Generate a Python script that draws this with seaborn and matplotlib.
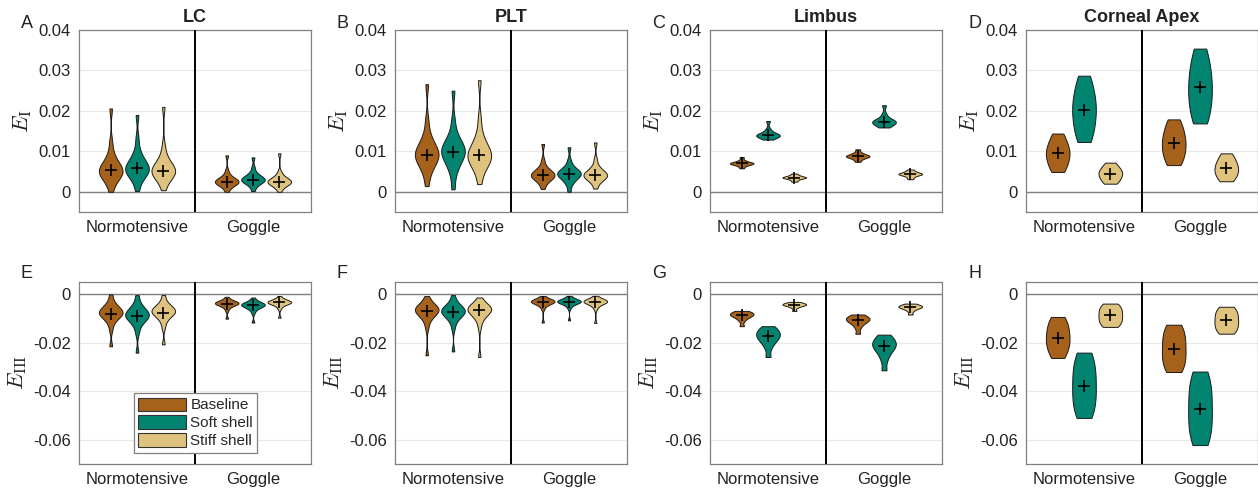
import numpy as np
import pandas as pd
import matplotlib
matplotlib.use("Agg")
import matplotlib.pyplot as plt
import seaborn as sns
from matplotlib.patches import Patch

# ---------------- data ----------------
GROUPS = ["Normotensive", "Goggle"]
CONDITIONS = ["Baseline", "Soft shell", "Stiff shell"]
COLORS = ["#a6611a", "#018571", "#dfc27d"]
REGIONS = ["LC", "PLT", "Limbus", "Corneal Apex"]
LETTERS_TOP = ["A", "B", "C", "D"]
LETTERS_BOT = ["E", "F", "G", "H"]
YTICKS_EI = [0, 0.01, 0.02, 0.03, 0.04]
YTICKLABELS_EI = ["0", "0.01", "0.02", "0.03", "0.04"]
YTICKS_EIII = [-0.06, -0.04, -0.02, 0]
YTICKLABELS_EIII = ["-0.06", "-0.04", "-0.02", "0"]

# representative observations per violin: [Baseline, Soft shell, Stiff shell]
LC_EI_NORMO = [
    [0.0000, 0.0020, 0.0030, 0.0036, 0.0040, 0.0044, 0.0047, 0.0050, 0.0052,
     0.0055, 0.0059, 0.0063, 0.0068, 0.0074, 0.0083, 0.0095, 0.0123, 0.0206],
    [0.0002, 0.0024, 0.0034, 0.0040, 0.0045, 0.0049, 0.0053, 0.0055, 0.0058,
     0.0061, 0.0065, 0.0069, 0.0075, 0.0081, 0.0090, 0.0103, 0.0132, 0.0190],
    [0.0004, 0.0023, 0.0031, 0.0037, 0.0041, 0.0045, 0.0047, 0.0050, 0.0052,
     0.0055, 0.0058, 0.0061, 0.0066, 0.0072, 0.0079, 0.0090, 0.0114, 0.0210],
]
LC_EI_GOGGLE = [
    [0.0000, 0.0010, 0.0014, 0.0017, 0.0019, 0.0021, 0.0023, 0.0024, 0.0025,
     0.0026, 0.0028, 0.0029, 0.0031, 0.0034, 0.0037, 0.0042, 0.0053, 0.0090],
    [0.0002, 0.0013, 0.0018, 0.0021, 0.0024, 0.0026, 0.0027, 0.0029, 0.0030,
     0.0031, 0.0033, 0.0035, 0.0037, 0.0040, 0.0043, 0.0049, 0.0061, 0.0085],
    [0.0000, 0.0010, 0.0014, 0.0017, 0.0019, 0.0021, 0.0023, 0.0024, 0.0025,
     0.0026, 0.0027, 0.0029, 0.0031, 0.0033, 0.0036, 0.0041, 0.0050, 0.0095],
]
LC_EI_MEAN = [[0.0053, 0.0058, 0.0052], [0.0025, 0.0030, 0.0025]]

PLT_EI_NORMO = [
    [0.0014, 0.0044, 0.0058, 0.0067, 0.0074, 0.0080, 0.0085, 0.0089, 0.0092,
     0.0096, 0.0100, 0.0105, 0.0111, 0.0119, 0.0129, 0.0144, 0.0177, 0.0266],
    [0.0006, 0.0042, 0.0059, 0.0070, 0.0078, 0.0085, 0.0090, 0.0095, 0.0099,
     0.0103, 0.0107, 0.0111, 0.0117, 0.0124, 0.0133, 0.0147, 0.0178, 0.0250],
    [0.0019, 0.0047, 0.0059, 0.0068, 0.0074, 0.0079, 0.0083, 0.0087, 0.0090,
     0.0094, 0.0099, 0.0104, 0.0110, 0.0118, 0.0129, 0.0145, 0.0181, 0.0276],
]
PLT_EI_GOGGLE = [
    [0.0007, 0.0020, 0.0026, 0.0030, 0.0033, 0.0036, 0.0038, 0.0039, 0.0041,
     0.0043, 0.0045, 0.0047, 0.0049, 0.0053, 0.0057, 0.0063, 0.0078, 0.0118],
    [0.0000, 0.0017, 0.0025, 0.0030, 0.0034, 0.0037, 0.0040, 0.0042, 0.0044,
     0.0046, 0.0047, 0.0049, 0.0052, 0.0055, 0.0059, 0.0065, 0.0078, 0.0110],
    [0.0008, 0.0021, 0.0027, 0.0031, 0.0034, 0.0036, 0.0038, 0.0040, 0.0041,
     0.0043, 0.0045, 0.0047, 0.0050, 0.0053, 0.0058, 0.0065, 0.0081, 0.0122],
]
PLT_EI_MEAN = [[0.0092, 0.0099, 0.0090], [0.0041, 0.0044, 0.0041]]

LIMBUS_EI_NORMO = [
    [0.0058, 0.0064, 0.0067, 0.0069, 0.0070, 0.0070, 0.0071, 0.0072, 0.0074, 0.0078, 0.0086],
    [0.0129, 0.0133, 0.0136, 0.0138, 0.0139, 0.0140, 0.0141, 0.0143, 0.0147, 0.0155, 0.0175],
    [0.0025, 0.0029, 0.0032, 0.0034, 0.0035, 0.0035, 0.0036, 0.0037, 0.0039, 0.0041, 0.0045],
]
LIMBUS_EI_GOGGLE = [
    [0.0074, 0.0080, 0.0084, 0.0086, 0.0087, 0.0088, 0.0089, 0.0091, 0.0093, 0.0097, 0.0105],
    [0.0159, 0.0163, 0.0167, 0.0170, 0.0172, 0.0173, 0.0175, 0.0177, 0.0181, 0.0192, 0.0214],
    [0.0031, 0.0036, 0.0040, 0.0042, 0.0043, 0.0044, 0.0045, 0.0046, 0.0048, 0.0051, 0.0055],
]
LIMBUS_EI_MEAN = [[0.0070, 0.0140, 0.0035], [0.0088, 0.0173, 0.0044]]

APEX_EI_NORMO = [
    [0.0049, 0.0062, 0.0075, 0.0086, 0.0095, 0.0104, 0.0114, 0.0128, 0.0144],
    [0.0123, 0.0145, 0.0167, 0.0186, 0.0203, 0.0220, 0.0238, 0.0260, 0.0287],
    [0.0020, 0.0027, 0.0034, 0.0040, 0.0045, 0.0050, 0.0055, 0.0062, 0.0072],
]
APEX_EI_GOGGLE = [
    [0.0066, 0.0081, 0.0095, 0.0108, 0.0120, 0.0132, 0.0145, 0.0161, 0.0179],
    [0.0169, 0.0193, 0.0216, 0.0238, 0.0258, 0.0278, 0.0300, 0.0325, 0.0354],
    [0.0026, 0.0035, 0.0044, 0.0051, 0.0058, 0.0065, 0.0073, 0.0083, 0.0095],
]
APEX_EI_MEAN = [[0.0095, 0.0203, 0.0045], [0.0120, 0.0258, 0.0058]]

LC_EIII_NORMO = [
    [-0.0001, -0.0030, -0.0043, -0.0052, -0.0058, -0.0064, -0.0068, -0.0072, -0.0075,
     -0.0078, -0.0082, -0.0086, -0.0091, -0.0097, -0.0106, -0.0118, -0.0146, -0.0215],
    [-0.0004, -0.0035, -0.0050, -0.0059, -0.0066, -0.0072, -0.0077, -0.0081, -0.0085,
     -0.0089, -0.0092, -0.0097, -0.0102, -0.0109, -0.0118, -0.0132, -0.0161, -0.0241],
    [-0.0004, -0.0030, -0.0042, -0.0050, -0.0055, -0.0060, -0.0064, -0.0067, -0.0070,
     -0.0073, -0.0076, -0.0080, -0.0085, -0.0091, -0.0099, -0.0112, -0.0138, -0.0207],
]
LC_EIII_GOGGLE = [
    [-0.0011, -0.0021, -0.0026, -0.0029, -0.0031, -0.0033, -0.0035, -0.0036, -0.0037,
     -0.0038, -0.0040, -0.0042, -0.0044, -0.0047, -0.0050, -0.0056, -0.0068, -0.0101],
    [-0.0014, -0.0026, -0.0031, -0.0035, -0.0037, -0.0039, -0.0041, -0.0043, -0.0044,
     -0.0046, -0.0047, -0.0049, -0.0052, -0.0055, -0.0059, -0.0065, -0.0078, -0.0117],
    [-0.0008, -0.0018, -0.0022, -0.0025, -0.0027, -0.0029, -0.0031, -0.0032, -0.0033,
     -0.0034, -0.0036, -0.0037, -0.0039, -0.0042, -0.0045, -0.0050, -0.0061, -0.0097],
]
LC_EIII_MEAN = [[-0.0080, -0.0091, -0.0076], [-0.0039, -0.0046, -0.0034]]

PLT_EIII_NORMO = [
    [-0.0008, -0.0030, -0.0041, -0.0047, -0.0052, -0.0056, -0.0060, -0.0062, -0.0065,
     -0.0068, -0.0072, -0.0076, -0.0082, -0.0088, -0.0097, -0.0110, -0.0139, -0.0252],
    [-0.0004, -0.0030, -0.0042, -0.0050, -0.0055, -0.0060, -0.0064, -0.0067, -0.0070,
     -0.0073, -0.0077, -0.0081, -0.0086, -0.0092, -0.0101, -0.0113, -0.0141, -0.0236],
    [-0.0014, -0.0034, -0.0042, -0.0048, -0.0052, -0.0056, -0.0058, -0.0061, -0.0063,
     -0.0066, -0.0070, -0.0074, -0.0080, -0.0086, -0.0095, -0.0108, -0.0137, -0.0259],
]
PLT_EIII_GOGGLE = [
    [-0.0008, -0.0016, -0.0020, -0.0023, -0.0025, -0.0027, -0.0028, -0.0029, -0.0030,
     -0.0031, -0.0033, -0.0035, -0.0037, -0.0040, -0.0043, -0.0049, -0.0061, -0.0117],
    [-0.0007, -0.0016, -0.0020, -0.0023, -0.0025, -0.0027, -0.0028, -0.0029, -0.0030,
     -0.0031, -0.0033, -0.0034, -0.0036, -0.0039, -0.0042, -0.0047, -0.0058, -0.0108],
    [-0.0007, -0.0016, -0.0020, -0.0023, -0.0025, -0.0027, -0.0028, -0.0029, -0.0030,
     -0.0031, -0.0033, -0.0035, -0.0037, -0.0040, -0.0044, -0.0050, -0.0062, -0.0119],
]
PLT_EIII_MEAN = [[-0.0069, -0.0073, -0.0066], [-0.0032, -0.0032, -0.0032]]

LIMBUS_EIII_NORMO = [
    [-0.0069, -0.0073, -0.0077, -0.0080, -0.0083, -0.0086, -0.0089, -0.0093, -0.0099, -0.0110, -0.0132],
    [-0.0132, -0.0142, -0.0151, -0.0159, -0.0166, -0.0173, -0.0180, -0.0189, -0.0200, -0.0220, -0.0259],
    [-0.0032, -0.0035, -0.0038, -0.0040, -0.0042, -0.0043, -0.0045, -0.0047, -0.0050, -0.0056, -0.0069],
]
LIMBUS_EIII_GOGGLE = [
    [-0.0084, -0.0090, -0.0095, -0.0099, -0.0103, -0.0107, -0.0111, -0.0116, -0.0124, -0.0138, -0.0163],
    [-0.0167, -0.0178, -0.0189, -0.0198, -0.0206, -0.0213, -0.0221, -0.0231, -0.0246, -0.0270, -0.0314],
    [-0.0039, -0.0043, -0.0046, -0.0049, -0.0051, -0.0053, -0.0055, -0.0058, -0.0062, -0.0070, -0.0084],
]
LIMBUS_EIII_MEAN = [[-0.0087, -0.0174, -0.0043], [-0.0108, -0.0214, -0.0054]]

APEX_EIII_NORMO = [
    [-0.0094, -0.0116, -0.0138, -0.0160, -0.0179, -0.0197, -0.0216, -0.0238, -0.0263],
    [-0.0241, -0.0275, -0.0310, -0.0344, -0.0377, -0.0410, -0.0443, -0.0477, -0.0510],
    [-0.0039, -0.0051, -0.0063, -0.0075, -0.0087, -0.0099, -0.0111, -0.0123, -0.0135],
]
APEX_EIII_GOGGLE = [
    [-0.0126, -0.0150, -0.0175, -0.0200, -0.0225, -0.0249, -0.0273, -0.0297, -0.0321],
    [-0.0319, -0.0357, -0.0395, -0.0434, -0.0472, -0.0510, -0.0547, -0.0585, -0.0622],
    [-0.0052, -0.0066, -0.0080, -0.0094, -0.0108, -0.0122, -0.0135, -0.0149, -0.0163],
]
APEX_EIII_MEAN = [[-0.0179, -0.0377, -0.0087], [-0.0225, -0.0472, -0.0108]]

# ---------------- style ----------------
sns.set_style("white")
plt.rcParams["font.family"] = ["Liberation Sans", "DejaVu Sans"]
plt.rcParams["mathtext.fontset"] = "cm"
TEXT = "#222222"

W, H, DPI = 1258, 490, 100
fig = plt.figure(figsize=(W / DPI, H / DPI), dpi=DPI)

VIOLIN_WIDTH = 0.68
COL_LEFT = [79, 395, 710, 1026]
AX_W = 232
ROW_TOP = [30, 282]
AX_H = 182

TOP_PANELS = [
    (LC_EI_NORMO, LC_EI_GOGGLE, LC_EI_MEAN, 0.65),
    (PLT_EI_NORMO, PLT_EI_GOGGLE, PLT_EI_MEAN, 0.65),
    (LIMBUS_EI_NORMO, LIMBUS_EI_GOGGLE, LIMBUS_EI_MEAN, 0.7),
    (APEX_EI_NORMO, APEX_EI_GOGGLE, APEX_EI_MEAN, 0.9),
]
BOT_PANELS = [
    (LC_EIII_NORMO, LC_EIII_GOGGLE, LC_EIII_MEAN, 0.65),
    (PLT_EIII_NORMO, PLT_EIII_GOGGLE, PLT_EIII_MEAN, 0.65),
    (LIMBUS_EIII_NORMO, LIMBUS_EIII_GOGGLE, LIMBUS_EIII_MEAN, 0.7),
    (APEX_EIII_NORMO, APEX_EIII_GOGGLE, APEX_EIII_MEAN, 0.9),
]


def long_frame(normo, goggle):
    rows = []
    for g, samples in zip(GROUPS, [normo, goggle]):
        for c, vals in zip(CONDITIONS, samples):
            for v in vals:
                rows.append((g, c, v))
    return pd.DataFrame(rows, columns=["group", "condition", "value"])


def mean_frame(means):
    rows = []
    for g, ms in zip(GROUPS, means):
        for c, m in zip(CONDITIONS, ms):
            rows.append((g, c, m))
    return pd.DataFrame(rows, columns=["group", "condition", "value"])


def draw_panel(ax, normo, goggle, means, bw):
    df = long_frame(normo, goggle)
    sns.violinplot(data=df, x="group", y="value", hue="condition",
                   order=GROUPS, hue_order=CONDITIONS, palette=COLORS,
                   saturation=1, width=VIOLIN_WIDTH, gap=0.1, cut=0,
                   density_norm="width", inner=None, linewidth=0.7,
                   linecolor="#1a1a1a", bw_adjust=bw, legend=False, ax=ax)
    mdf = mean_frame(means)
    sns.pointplot(data=mdf, x="group", y="value", hue="condition",
                  order=GROUPS, hue_order=CONDITIONS,
                  palette={c: "black" for c in CONDITIONS},
                  dodge=2 * VIOLIN_WIDTH / 3, markers="+", linestyles="none",
                  errorbar=None, markersize=9, markeredgewidth=1.2,
                  legend=False, ax=ax, zorder=5)
    ax.axhline(0, color="#808080", lw=1.0, zorder=0.9)
    ax.axvline(0.5, color="black", lw=1.4, zorder=3)
    ax.set_xlim(-0.5, 1.5)
    ax.set_xlabel("")
    ax.set_xticks([0, 1])
    ax.set_xticklabels(GROUPS)
    ax.yaxis.grid(True, color="#e8e8e8", lw=0.9)
    ax.set_axisbelow(True)
    for s in ax.spines.values():
        s.set_color("#808080")
        s.set_linewidth(0.9)
    ax.tick_params(axis="both", length=0, labelsize=12, colors=TEXT, pad=6)


for i in range(4):
    # top row
    l = COL_LEFT[i]
    ax = fig.add_axes([l / W, 1 - (ROW_TOP[0] + AX_H) / H, AX_W / W, AX_H / H])
    n, g, m, bw = TOP_PANELS[i]
    draw_panel(ax, n, g, m, bw)
    ax.set_ylim(-0.005, 0.04)
    ax.set_yticks(YTICKS_EI)
    ax.set_yticklabels(YTICKLABELS_EI)
    ax.set_ylabel(r"$E_{\mathrm{I}}$", fontsize=16, color=TEXT, labelpad=3)
    ax.set_title(REGIONS[i], fontsize=13, fontweight="bold", color=TEXT, pad=6)
    fig.text((l - 58) / W, 1 - 15 / H, LETTERS_TOP[i], fontsize=13,
             color=TEXT, ha="left", va="top")

    # bottom row
    ax2 = fig.add_axes([l / W, 1 - (ROW_TOP[1] + AX_H) / H, AX_W / W, AX_H / H])
    n, g, m, bw = BOT_PANELS[i]
    draw_panel(ax2, n, g, m, bw)
    ax2.set_ylim(-0.07, 0.005)
    ax2.set_yticks(YTICKS_EIII)
    ax2.set_yticklabels(YTICKLABELS_EIII)
    ax2.set_ylabel(r"$E_{\mathrm{III}}$", fontsize=16, color=TEXT, labelpad=3)
    fig.text((l - 58) / W, 1 - 265 / H, LETTERS_BOT[i], fontsize=13,
             color=TEXT, ha="left", va="top")

    if i == 0:
        handles = [Patch(facecolor=c, edgecolor="#333333", lw=0.8) for c in COLORS]
        leg = ax2.legend(handles, CONDITIONS, loc="upper left",
                         bbox_to_anchor=(0.236, 0.39), borderaxespad=0,
                         fontsize=11, frameon=True, fancybox=False,
                         framealpha=1, edgecolor="#808080",
                         handlelength=3.1, handleheight=0.95,
                         handletextpad=0.3, labelspacing=0.2, borderpad=0.3)
        leg.get_frame().set_linewidth(0.9)
        leg.set_zorder(10)

fig.savefig("out.png", dpi=DPI)
